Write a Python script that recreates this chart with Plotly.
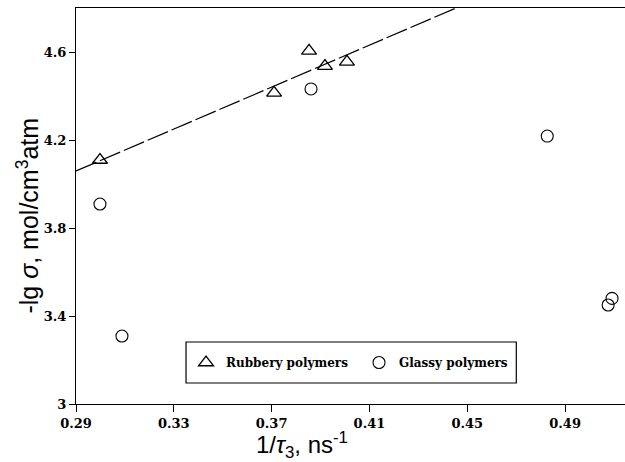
import plotly.graph_objects as go

# Data
rubbery_x = [0.2998, 0.3710, 0.3853, 0.3918, 0.4008]
rubbery_y = [4.109, 4.414, 4.605, 4.536, 4.555]

glassy_x = [0.2998, 0.3088, 0.3861, 0.4827, 0.5092, 0.5076]
glassy_y = [3.909, 3.309, 4.432, 4.218, 3.480, 3.450]

fit_x = [0.29, 0.4454]
fit_y = [4.059, 4.80]

x_ticks = [0.29, 0.33, 0.37, 0.41, 0.45, 0.49]
x_labels = ["0.29", "0.33", "0.37", "0.41", "0.45", "0.49"]
y_ticks = [3.0, 3.4, 3.8, 4.2, 4.6]
y_labels = ["3", "3.4", "3.8", "4.2", "4.6"]

fig = go.Figure()

fig.add_trace(go.Scatter(
    x=fit_x, y=fit_y, mode="lines",
    line=dict(color="black", width=1.2, dash="22px,4px"),
    showlegend=False, hoverinfo="skip"))

fig.add_trace(go.Scatter(
    x=rubbery_x, y=rubbery_y, mode="markers", name="Rubbery polymers",
    marker=dict(symbol="triangle-up-open", size=13, color="black",
                line=dict(width=1.3, color="black"))))

fig.add_trace(go.Scatter(
    x=glassy_x, y=glassy_y, mode="markers", name="Glassy polymers",
    marker=dict(symbol="circle-open", size=12, color="black",
                line=dict(width=1.1, color="black"))))

tickfont = dict(family="DejaVu Serif", size=13, color="black", weight="bold")

# plot area: left 76, right 625, top 8, bottom 404 (px)
fig.update_layout(
    width=625, height=462,
    margin=dict(l=76, r=0, t=8, b=58),
    paper_bgcolor="white", plot_bgcolor="white",
    showlegend=True,
    legend=dict(
        orientation="h", x=0.2004, y=0.1048, xanchor="left", yanchor="middle",
        borderwidth=0, bgcolor="rgba(0,0,0,0)", entrywidth=128,
        font=dict(family="DejaVu Serif", size=12, color="black", weight="bold"),
    ),
    shapes=[dict(type="rect", xref="paper", yref="paper",
                 x0=0.2004, x1=0.802, y0=0.053, y1=0.1566,
                 line=dict(color="black", width=1.2), fillcolor="rgba(0,0,0,0)",
                 layer="below")],
    xaxis=dict(
        range=[0.29, 0.5145], tickmode="array", tickvals=x_ticks, ticktext=x_labels,
        showgrid=False, zeroline=False, showline=True, linecolor="black", linewidth=1.2,
        mirror=True, ticks="outside", ticklen=7, tickcolor="black", tickwidth=1,
        tickfont=tickfont,
    ),
    yaxis=dict(
        range=[3.0, 4.8], tickmode="array", tickvals=y_ticks, ticktext=y_labels,
        showgrid=False, zeroline=False, showline=True, linecolor="black", linewidth=1.2,
        ticks="outside", ticklen=6, tickcolor="black", tickwidth=1,
        tickfont=tickfont,
    ),
    annotations=[
        dict(text="1/<i>τ</i><sub>3</sub>, ns<sup>-1</sup>", xref="paper", yref="paper",
             x=0.412, y=-0.104, xanchor="center", yanchor="middle", showarrow=False,
             font=dict(family="Liberation Sans", size=24, color="black")),
        dict(text="-lg <i>σ</i>, mol/cm<sup>3</sup>atm", xref="paper", yref="paper",
             x=-0.088, y=0.475, xanchor="center", yanchor="middle", showarrow=False,
             textangle=-90,
             font=dict(family="Liberation Sans", size=25, color="black")),
    ],
)

fig.write_html("out.html")
